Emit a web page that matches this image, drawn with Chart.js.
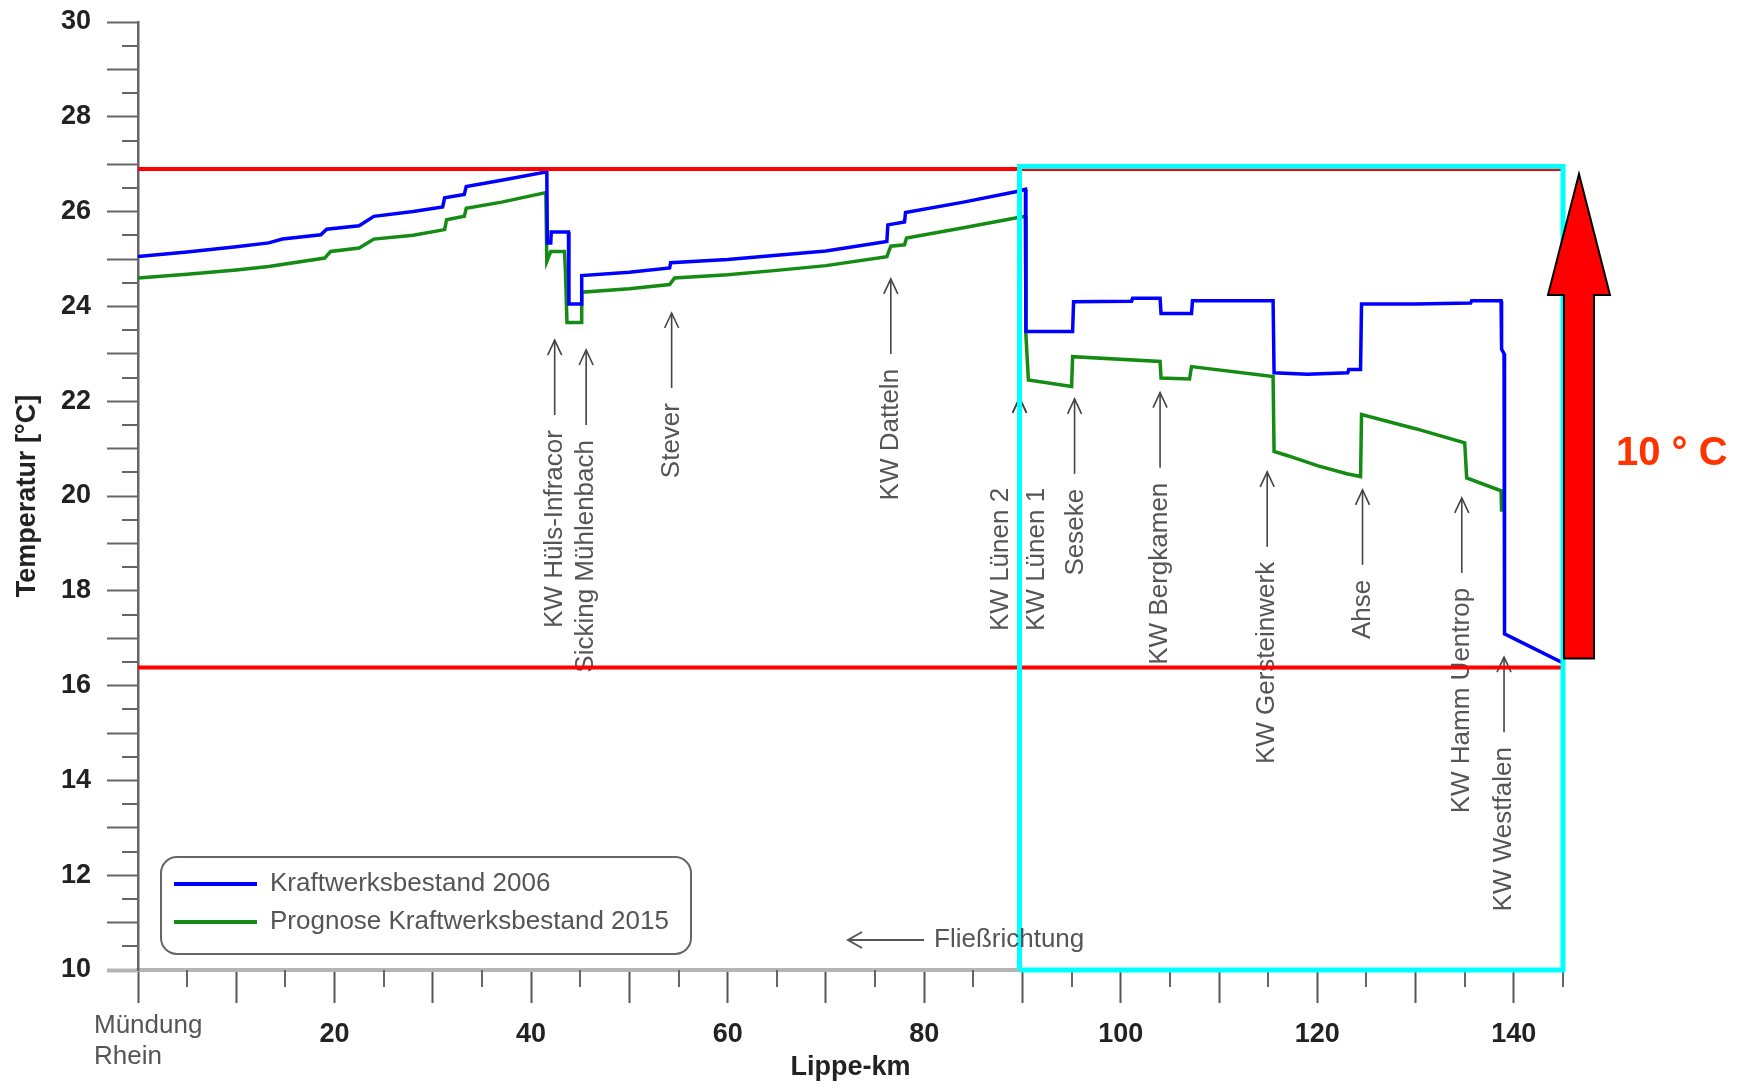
<!DOCTYPE html>
<html>
<head>
<meta charset="utf-8">
<script src="https://cdn.jsdelivr.net/npm/chart.js@4.4.0/dist/chart.umd.min.js"></script>
<style>
  html, body { margin: 0; padding: 0; background: #fff; }
  #wrap { width: 1748px; height: 1090px; }
</style>
</head>
<body>
<div id="wrap"><canvas id="chart"></canvas></div>
<script>
// Lippe-km / temperature readings
const kmBlue = [0, 5, 10, 13.3, 14.7, 18.6, 19.2, 22.5, 24.0, 28, 31.0, 31.2, 33.2, 33.4, 37, 41.6,
  41.65, 42.0, 42.05, 43.8, 43.85, 45.1, 45.15, 50, 54.1, 54.2, 60, 65, 70, 76.2, 76.3, 78.0, 78.1, 84, 89.3, 90.3,
  90.35, 95.1, 95.2, 101.1, 101.2, 104.0, 104.1, 107.2, 107.3, 115.5, 115.6, 119, 123.1, 123.2, 124.4, 124.5,
  130, 135.6, 135.7, 138.7, 138.75, 139.0, 139.05, 145];
const tempBlue = [25.05, 25.15, 25.26, 25.34, 25.42, 25.51, 25.63, 25.70, 25.90, 26.0, 26.10, 26.29, 26.36, 26.53, 26.66, 26.84,
  25.34, 25.34, 25.57, 25.57, 24.05, 24.05, 24.65, 24.72, 24.81, 24.92, 24.99, 25.08, 25.17, 25.37, 25.72, 25.78, 25.98, 26.2, 26.42, 26.47,
  23.47, 23.47, 24.10, 24.11, 24.17, 24.17, 23.85, 23.85, 24.12, 24.12, 22.6, 22.57, 22.6, 22.67, 22.67, 24.05,
  24.05, 24.07, 24.12, 24.12, 23.1, 23.0, 17.09, 16.48];

const kmGreen = [0, 5, 10, 13.3, 19.0, 19.6, 22.5, 24.0, 28, 31.2, 31.4, 33.2, 33.4, 37, 41.5,
  41.6, 42.0, 43.4, 43.5, 43.65, 45.1, 45.15, 50, 54.1, 54.6, 60, 65, 70, 76.2, 76.6, 78.0, 78.2, 84, 89.7, 90.3,
  90.35, 90.6, 95.0, 95.1, 104.0, 104.1, 107.0, 107.2, 115.5, 115.6, 117, 120, 123, 124.4, 124.5,
  130, 135.0, 135.2, 138.7, 138.75];
const tempGreen = [24.60, 24.68, 24.77, 24.84, 25.02, 25.16, 25.23, 25.42, 25.50, 25.62, 25.83, 25.90, 26.07, 26.20, 26.40,
  24.95, 25.16, 25.16, 24.70, 23.66, 23.66, 24.30, 24.37, 24.46, 24.60, 24.67, 24.76, 24.86, 25.05, 25.27, 25.30, 25.44, 25.66, 25.88, 25.90,
  23.40, 22.45, 22.31, 22.94, 22.84, 22.49, 22.47, 22.73, 22.52, 20.94, 20.85, 20.64, 20.47, 20.41, 21.72,
  21.42, 21.12, 20.38, 20.11, 19.67];

const seriesNames = ['Kraftwerksbestand 2006', 'Prognose Kraftwerksbestand 2015'];

// temperature band and highlighted river section
const upperLimit = 26.9;
const lowerLimit = 16.38;
const zoneTop = 26.95;
const zoneKm = [89.7, 145];
const bandLabel = '10 ° C';

// inflows / power plants along the river
const markerNames = ['KW Hüls-Infracor', 'Sicking Mühlenbach', 'Stever', 'KW Datteln', 'KW Lünen 2', 'KW Lünen 1',
  'Seseke', 'KW Bergkamen', 'KW Gersteinwerk', 'Ahse', 'KW Hamm Uentrop', 'KW Westfalen'];
const markerKm = [42.4, 45.6, 54.3, 76.6, 89.7, 89.7, 95.3, 104.0, 114.9, 124.6, 134.7, 139.0];
const markerLabelKm = [42.4, 45.6, 54.3, 76.6, 87.8, 91.5, 95.4, 104.0, 114.9, 124.6, 134.7, 139.0];
const markerTip = [23.29, 23.08, 23.86, 24.58, 22.07, 22.07, 22.05, 22.18, 20.51, 20.13, 19.96, 16.6];

const xMin = 0, xMax = 145, xStep = 10, xLabelEvery = 20;
const yMin = 10, yMax = 30, yStep = 1, yLabelEvery = 2;

const FONT = '"Liberation Sans", Arial, sans-serif';
Chart.defaults.font.family = FONT;

const pts = (xs, ys) => xs.map((v, i) => ({ x: v, y: ys[i] }));

function arrowUp(ctx, x, tip, len) {
  ctx.beginPath();
  ctx.moveTo(x, tip);
  ctx.lineTo(x, tip + len);
  ctx.stroke();
  ctx.beginPath();
  ctx.moveTo(x - 7, tip + 15);
  ctx.lineTo(x, tip);
  ctx.lineTo(x + 7, tip + 15);
  ctx.stroke();
}

const extras = {
  id: 'extras',
  beforeDatasetsDraw(chart) {
    const { ctx, chartArea: a, scales: { x, y } } = chart;
    ctx.save();
    // half-step ticks
    ctx.strokeStyle = '#666';
    ctx.lineWidth = 2;
    for (let v = yMin + yStep / 2; v < yMax; v += yStep) {
      const py = Math.round(y.getPixelForValue(v));
      ctx.beginPath(); ctx.moveTo(a.left - 16, py); ctx.lineTo(a.left, py); ctx.stroke();
    }
    for (let v = xMin + xStep / 2; v <= xMax; v += xStep) {
      const px = Math.round(x.getPixelForValue(v));
      ctx.beginPath(); ctx.moveTo(px, a.bottom); ctx.lineTo(px, a.bottom + 17); ctx.stroke();
    }
    // marker arrows and labels
    ctx.strokeStyle = '#444';
    ctx.lineWidth = 1.6;
    ctx.fillStyle = '#555';
    ctx.font = '26px ' + FONT;
    markerNames.forEach((name, i) => {
      const ax = x.getPixelForValue(markerKm[i]);
      const tip = y.getPixelForValue(markerTip[i]);
      arrowUp(ctx, ax, tip, 75);
      ctx.save();
      ctx.translate(x.getPixelForValue(markerLabelKm[i]), tip + 90);
      ctx.rotate(-Math.PI / 2);
      ctx.textAlign = 'right';
      ctx.textBaseline = 'middle';
      ctx.fillText(name, 0, 0);
      ctx.restore();
    });
    ctx.restore();
  },
  afterDraw(chart) {
    const { ctx, chartArea: a, scales: { x, y } } = chart;
    ctx.save();
    // river mouth label at km 0
    ctx.fillStyle = '#555';
    ctx.font = '26px ' + FONT;
    ctx.textAlign = 'left';
    ctx.textBaseline = 'middle';
    const x0 = x.getPixelForValue(0) - 44;
    ctx.fillText('Mündung', x0, a.bottom + 56);
    ctx.fillText('Rhein', x0, a.bottom + 87);

    // flow direction
    const fy = a.bottom - 30;
    ctx.strokeStyle = '#555';
    ctx.lineWidth = 2;
    ctx.beginPath(); ctx.moveTo(848, fy); ctx.lineTo(924, fy); ctx.stroke();
    ctx.beginPath(); ctx.moveTo(862, fy - 8); ctx.lineTo(848, fy); ctx.lineTo(862, fy + 8); ctx.stroke();
    ctx.fillText('Fließrichtung', 934, fy);

    // legend
    const lx = a.left + 23, ly = a.bottom - 113, lw = 530, lh = 97;
    ctx.strokeStyle = '#666';
    ctx.lineWidth = 2;
    ctx.beginPath();
    ctx.roundRect(lx, ly, lw, lh, 16);
    ctx.stroke();
    chart.data.datasets.slice(0, 2).forEach((ds, i) => {
      const yy = ly + 27 + i * 38;
      ctx.strokeStyle = ds.borderColor;
      ctx.lineWidth = 4;
      ctx.beginPath(); ctx.moveTo(lx + 13, yy); ctx.lineTo(lx + 96, yy); ctx.stroke();
      ctx.fillStyle = '#555';
      ctx.fillText(ds.label, lx + 109, yy);
    });

    // big red arrow spanning the band
    const r = x.getPixelForValue(xMax);
    const tip = y.getPixelForValue(upperLimit) + 5;
    const base = tip + 121;
    const bottom = y.getPixelForValue(lowerLimit) - 9;
    ctx.fillStyle = '#ff0000';
    ctx.strokeStyle = '#000';
    ctx.lineWidth = 2;
    ctx.beginPath();
    ctx.moveTo(r + 16, tip);
    ctx.lineTo(r + 47, base);
    ctx.lineTo(r + 31, base);
    ctx.lineTo(r + 31, bottom);
    ctx.lineTo(r + 1, bottom);
    ctx.lineTo(r + 1, base);
    ctx.lineTo(r - 15, base);
    ctx.closePath();
    ctx.fill();
    ctx.stroke();

    ctx.fillStyle = '#ff3300';
    ctx.font = 'bold 40px ' + FONT;
    ctx.textAlign = 'left';
    ctx.fillText(bandLabel, r + 53, (y.getPixelForValue(upperLimit) + y.getPixelForValue(lowerLimit)) / 2 + 36);
    ctx.restore();
  }
};

const tickFont = { family: FONT, size: 27, weight: 'bold' };

new Chart(document.getElementById('chart'), {
  type: 'line',
  data: {
    datasets: [
      { label: seriesNames[0], data: pts(kmBlue, tempBlue), borderColor: '#0000ff', borderWidth: 3.5, order: 2 },
      { label: seriesNames[1], data: pts(kmGreen, tempGreen), borderColor: '#148c14', borderWidth: 3.5, order: 3 },
      { label: 'upper', data: pts([xMin, xMax], [upperLimit, upperLimit]), borderColor: '#ff0000', borderWidth: 4, order: 1 },
      { label: 'lower', data: pts([xMin, xMax], [lowerLimit, lowerLimit]), borderColor: '#ff0000', borderWidth: 4, order: 1 },
      { label: 'zone', data: pts([zoneKm[0], zoneKm[0], zoneKm[1], zoneKm[1], zoneKm[0]], [yMin, zoneTop, zoneTop, yMin, yMin]),
        borderColor: '#00ffff', borderWidth: 5, order: 0, clip: false }
    ]
  },
  options: {
    responsive: true,
    maintainAspectRatio: false,
    animation: false,
    devicePixelRatio: 1,
    layout: { padding: { top: 22, right: 185, left: 0, bottom: 0 } },
    elements: { point: { radius: 0 }, line: { tension: 0, fill: false } },
    plugins: { legend: { display: false }, tooltip: { enabled: false } },
    scales: {
      x: {
        type: 'linear', min: xMin, max: xMax,
        ticks: {
          stepSize: xStep, autoSkip: false, includeBounds: false, maxRotation: 0, padding: 15,
          font: tickFont, color: '#222',
          callback: v => (v > 0 && v % xLabelEvery === 0) ? v : ''
        },
        grid: { drawOnChartArea: false, tickLength: 33, tickColor: '#555', tickWidth: 2 },
        border: { color: '#b4b4b4', width: 4 },
        title: { display: true, text: 'Lippe-km', font: tickFont, color: '#222', padding: { top: 0, bottom: 6 } },
        afterFit: s => { s.height = 120; s.paddingLeft = 0; s.paddingRight = 0; }
      },
      y: {
        min: yMin, max: yMax,
        ticks: {
          stepSize: yStep, padding: 16, font: tickFont, color: '#222',
          callback: v => (v % yLabelEvery === 0) ? v : ''
        },
        grid: {
          drawOnChartArea: false, tickLength: 31,
          tickColor: c => (c.tick && c.tick.value === yMin) ? '#b4b4b4' : '#666',
          tickWidth: c => (c.tick && c.tick.value === yMin) ? 4 : 2
        },
        border: { color: '#666', width: 2.5 },
        title: { display: true, text: 'Temperatur [°C]', font: tickFont, color: '#222', padding: { top: 11, bottom: 0 } },
        afterFit: s => { s.width = 138; s.paddingTop = 0; s.paddingBottom = 0; }
      }
    }
  },
  plugins: [extras]
});
</script>
</body>
</html>
